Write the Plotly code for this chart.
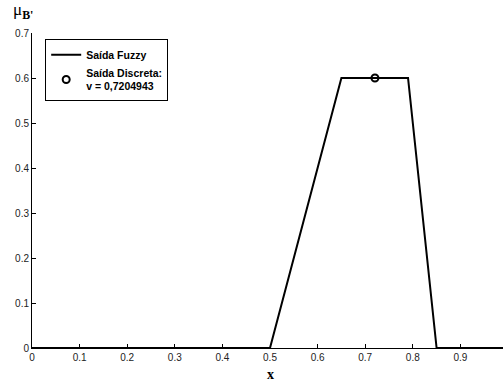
import plotly.graph_objects as go

x_fuzzy = [0, 0.5, 0.65, 0.79, 0.85, 1.0]
mu_fuzzy = [0, 0, 0.6, 0.6, 0, 0]
v_discrete = [0.7204943]
mu_discrete = [0.6]
x_ticks = [0, 0.1, 0.2, 0.3, 0.4, 0.5, 0.6, 0.7, 0.8, 0.9]
x_tick_labels = ["0", "0.1", "0.2", "0.3", "0.4", "0.5", "0.6", "0.7", "0.8", "0.9"]
y_ticks = [0, 0.1, 0.2, 0.3, 0.4, 0.5, 0.6, 0.7]
y_tick_labels = ["0", "0.1", "0.2", "0.3", "0.4", "0.5", "0.6", "0.7"]

fig = go.Figure()
fig.add_trace(go.Scatter(x=x_fuzzy, y=mu_fuzzy, mode="lines", name="<b>Saída Fuzzy</b>",
                         line=dict(color="black", width=2)))
fig.add_trace(go.Scatter(x=v_discrete, y=mu_discrete, mode="markers",
                         name="<b>Saída Discreta:</b><br><b>v = 0,7204943</b>",
                         marker=dict(symbol="circle-open", size=7, color="black",
                                     line=dict(width=2, color="black"))))

axis_common = dict(showgrid=False, zeroline=False, showline=True, linecolor="black",
                   linewidth=1, ticks="inside", ticklen=4, tickcolor="black",
                   tickfont=dict(family="Liberation Sans, Arial", size=10, color="#222"))
fig.update_xaxes(range=[0, 0.9895], tickvals=x_ticks, ticktext=x_tick_labels, **axis_common)
fig.update_yaxes(range=[0, 0.7], tickvals=y_ticks, ticktext=y_tick_labels, **axis_common)

fig.add_annotation(text="<b>x</b>", x=0.5, y=-0.083, xref="x", yref="paper",
                   showarrow=False, font=dict(family="Liberation Serif, Times New Roman", size=14, color="black"),
                   yanchor="middle")
fig.add_annotation(text="μ<sub><b>B'</b></sub>", x=-0.045, y=1.0, xref="paper", yref="paper",
                   showarrow=False, xanchor="left", yanchor="bottom", yshift=9,
                   font=dict(family="Liberation Serif, Times New Roman", size=17, color="black"))

fig.update_layout(
    width=503, height=381,
    margin=dict(l=32, r=0, t=33, b=33),
    plot_bgcolor="white", paper_bgcolor="white",
    legend=dict(x=0.028, y=0.98, xanchor="left", yanchor="top",
                bgcolor="white", bordercolor="black", borderwidth=1,
                font=dict(family="Liberation Sans, Arial", size=10.5, color="black"),
                tracegroupgap=0, itemwidth=30),
    showlegend=True,
)

fig.write_html("out.html", config={"displayModeBar": False},
               post_script="document.body.style.margin='0';document.body.style.overflow='hidden';")
